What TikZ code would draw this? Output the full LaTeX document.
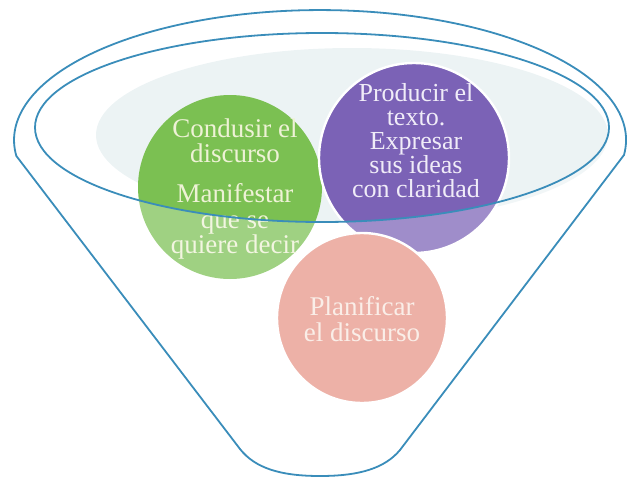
\documentclass[tikz,border=0pt]{standalone}
\usepackage{fontspec}
\setmainfont{Liberation Serif}
\usetikzlibrary{positioning}
\definecolor{funnelBlue}{HTML}{3A8DBA}
\definecolor{mouthFill}{HTML}{ECF3F4}
\definecolor{leafGreen}{HTML}{7BC052}
\definecolor{inkPurple}{HTML}{7B62B6}
\definecolor{softPink}{HTML}{EDB1A7}
\definecolor{greenText}{HTML}{EEF2D6}
\definecolor{purpleText}{HTML}{F0ECF8}
\definecolor{pinkText}{HTML}{FAEEE8}

\begin{document}
\begin{tikzpicture}[x=0.5pt, y=-0.5pt,
    rim/.style={draw=funnelBlue, line width=0.9pt},
    bubble/.style={draw=white, line width=1.2pt},
    bubbletext/.style={font=\fontsize{13.5}{12.8}\selectfont, align=center, inner sep=0pt}]

    \useasboundingbox (0,0) rectangle (627,477);

    % mouth of the funnel
    \fill[mouthFill] (352,135) ellipse [x radius=128pt, y radius=43.5pt];

    \fill[leafGreen] (230,187) circle (46pt);
    \node[bubbletext, text=greenText] (conducir) at (235,189) {Condusir el\\discurso\\[7pt]Manifestar\\que se\\quiere decir};

    \filldraw[bubble, fill=inkPurple] (414,158) circle (47.5pt);
    \node[bubbletext, text=purpleText, font=\fontsize{13}{12}\selectfont] (producir) at (416,141) {Producir el\\texto.\\Expresar\\sus ideas\\con claridad};

    % whatever hangs below the rim looks paler
    \fill[white, opacity=0.28, even odd rule] (0,0) rectangle (627,477)
        (322,127.5) ellipse [x radius=143.5pt, y radius=47.25pt];

    \filldraw[bubble, fill=softPink] (362,318) circle (42.5pt);
    \node[bubbletext, text=pinkText] (planificar) at (362,319) {Planificar\\el discurso};

    % funnel outline
    \draw[rim] (322,127.5) ellipse [x radius=143.5pt, y radius=47.25pt];
    \draw[rim] (624,155) arc [start angle=-6.6, end angle=187, x radius=153pt, y radius=65pt]
        -- (240,449) .. controls (255,468) and (280,476) .. (320,476)
        .. controls (360,476) and (385,468) .. (400,450) -- cycle;
\end{tikzpicture}
\end{document}
